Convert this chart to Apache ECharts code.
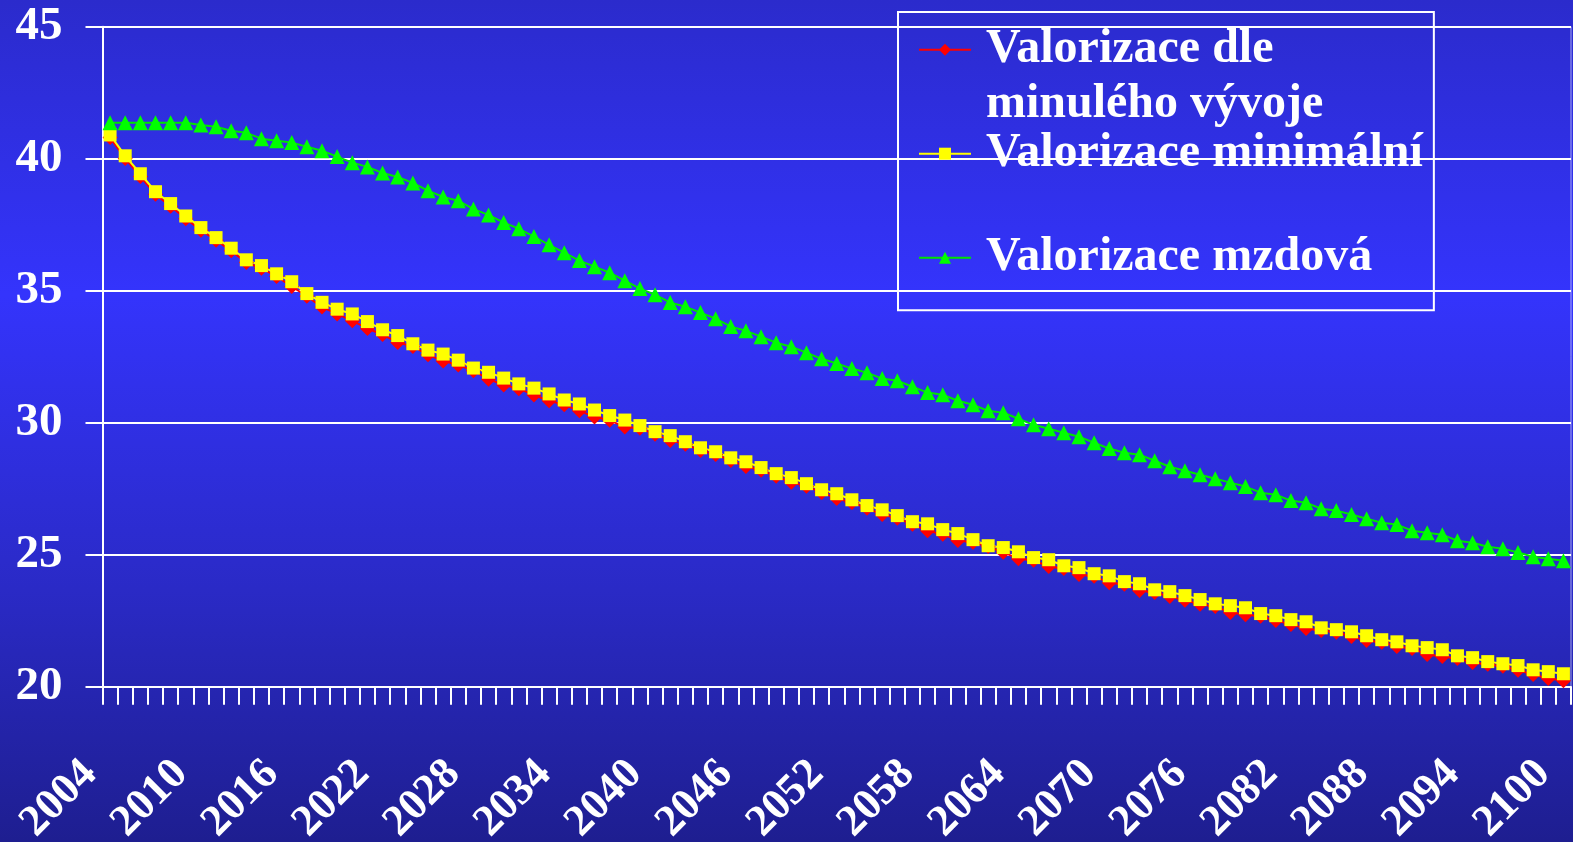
<!DOCTYPE html>
<html>
<head>
<meta charset="utf-8">
<title>Valorizace</title>
<script src="https://cdn.jsdelivr.net/npm/echarts@6/dist/echarts.min.js"></script>
<style>
  html, body { margin: 0; padding: 0; }
  #chart {
    width: 1573px;
    height: 842px;
    background: linear-gradient(to bottom, #2b2bcc 0%, #3434fc 35%, #2a2ac6 70%, #1e1e90 100%);
  }
</style>
</head>
<body>
<div id="chart"></div>
<script>
// roky 2004 - 2100
var years = [];
for (var y = 2004; y <= 2100; y++) years.push(String(y));

var yTicks = [20, 25, 30, 35, 40, 45];

// Valorizace dle minulého vývoje
var minulyVyvoj = [
  40.80, 40.01, 39.33, 38.65, 38.20, 37.73, 37.29, 36.91, 36.51, 36.07,
  35.85, 35.54, 35.16, 34.79, 34.38, 34.12, 33.86, 33.57, 33.34, 33.04,
  32.89, 32.57, 32.34, 32.19, 31.97, 31.65, 31.43, 31.29, 31.05, 30.83,
  30.68, 30.45, 30.22, 30.09, 29.84, 29.79, 29.56, 29.33, 29.18, 28.95,
  28.80, 28.57, 28.34, 28.20, 27.97, 27.74, 27.59, 27.36, 27.13, 26.98,
  26.76, 26.52, 26.38, 26.15, 25.91, 25.77, 25.54, 25.47, 25.31, 25.09,
  24.85, 24.79, 24.55, 24.48, 24.25, 24.18, 23.94, 23.88, 23.64, 23.57,
  23.42, 23.27, 23.12, 23.04, 22.81, 22.73, 22.67, 22.51, 22.36, 22.20,
  22.13, 22.06, 21.90, 21.75, 21.68, 21.52, 21.45, 21.22, 21.14, 21.07,
  20.92, 20.85, 20.77, 20.62, 20.46, 20.31, 20.23
];

// Valorizace minimální
var minimalni = [
  40.90, 40.11, 39.43, 38.75, 38.30, 37.83, 37.39, 37.01, 36.61, 36.17,
  35.95, 35.64, 35.34, 34.89, 34.56, 34.30, 34.12, 33.83, 33.52, 33.30,
  32.99, 32.75, 32.60, 32.37, 32.07, 31.91, 31.69, 31.47, 31.31, 31.09,
  30.86, 30.71, 30.48, 30.27, 30.10, 29.89, 29.66, 29.51, 29.28, 29.05,
  28.90, 28.67, 28.52, 28.30, 28.07, 27.92, 27.69, 27.46, 27.31, 27.08,
  26.86, 26.70, 26.48, 26.25, 26.17, 25.95, 25.80, 25.57, 25.34, 25.27,
  25.11, 24.89, 24.81, 24.58, 24.51, 24.28, 24.20, 23.98, 23.90, 23.67,
  23.60, 23.45, 23.30, 23.14, 23.07, 22.99, 22.77, 22.69, 22.54, 22.46,
  22.23, 22.16, 22.08, 21.93, 21.78, 21.70, 21.55, 21.48, 21.40, 21.17,
  21.10, 20.95, 20.87, 20.80, 20.64, 20.57, 20.49
];

// Valorizace mzdová
var mzdova = [
  41.36, 41.36, 41.36, 41.36, 41.36, 41.36, 41.28, 41.21, 41.06, 40.98,
  40.76, 40.68, 40.61, 40.45, 40.30, 40.08, 39.85, 39.69, 39.46, 39.31,
  39.08, 38.79, 38.55, 38.41, 38.09, 37.87, 37.58, 37.35, 37.05, 36.74,
  36.44, 36.14, 35.91, 35.68, 35.38, 35.08, 34.85, 34.55, 34.39, 34.17,
  33.94, 33.64, 33.48, 33.26, 33.03, 32.88, 32.65, 32.42, 32.24, 32.05,
  31.89, 31.67, 31.59, 31.36, 31.14, 31.06, 30.83, 30.68, 30.45, 30.38,
  30.15, 29.92, 29.77, 29.62, 29.47, 29.24, 29.02, 28.86, 28.79, 28.56,
  28.33, 28.18, 28.03, 27.88, 27.73, 27.58, 27.35, 27.27, 27.05, 26.97,
  26.74, 26.67, 26.52, 26.36, 26.21, 26.14, 25.91, 25.83, 25.76, 25.53,
  25.45, 25.30, 25.23, 25.08, 24.92, 24.85, 24.77
];

var seriesNames = ['Valorizace dle minulého vývoje', 'Valorizace minimální', 'Valorizace mzdová'];

var FONT = '"Liberation Serif", "Times New Roman", serif';

var myChart = echarts.init(document.getElementById('chart'));

var option = {
  backgroundColor: 'transparent',
  animation: false,
  grid: {
    left: 102.5,
    right: 2,
    top: 26.7,
    bottom: 155.3,
    outerBoundsMode: 'none',
    containLabel: false,
    show: true,
    borderColor: 'rgba(220,220,255,0.7)',
    borderWidth: 1
  },
  legend: {
    orient: 'vertical',
    left: 898,
    top: 12,
    padding: [-44.8, 11, -30, 20],
    itemGap: -6,
    itemWidth: 52,
    itemHeight: 15,
    borderColor: '#ffffff',
    borderWidth: 2,
    selectedMode: false,
    formatter: function (name) {
      // první položka na dva řádky, ikona zůstává u prvního řádku
      return '{t|' + name.replace(' minulého', '}\n{t|minulého') + '}';
    },
    textStyle: {
      color: '#ffffff',
      fontFamily: FONT,
      fontWeight: 'bold',
      fontSize: 48,
      lineHeight: 55,
      rich: {
        t: {
          color: '#ffffff',
          fontFamily: FONT,
          fontWeight: 'bold',
          fontSize: 48,
          lineHeight: 55
        }
      }
    },
    data: [
      { name: seriesNames[0], textStyle: { padding: [55, 0, 0, 10] } },
      { name: seriesNames[1], textStyle: { padding: [0, 0, 0, 10] } },
      { name: seriesNames[2], textStyle: { padding: [55, 0, 55, 10] } }
    ]
  },
  xAxis: {
    type: 'category',
    data: years,
    boundaryGap: true,
    axisLine: { lineStyle: { color: '#ffffff', width: 2 } },
    axisTick: { show: true, interval: 0, length: 18, lineStyle: { color: '#ffffff', width: 2 } },
    axisLabel: {
      interval: 5,
      rotate: 45,
      margin: 61,
      padding: [0, 28, 0, 0],
      color: '#ffffff',
      fontFamily: FONT,
      fontWeight: 'bold',
      fontSize: 44
    },
    splitLine: { show: false }
  },
  yAxis: {
    type: 'value',
    min: yTicks[0],
    max: yTicks[yTicks.length - 1],
    interval: 5,
    axisLine: { show: true, lineStyle: { color: '#ffffff', width: 2 } },
    axisTick: { show: true, length: 17, lineStyle: { color: '#ffffff', width: 2 } },
    axisLabel: {
      margin: 40,
      color: '#ffffff',
      fontFamily: FONT,
      fontWeight: 'bold',
      fontSize: 47
    },
    splitLine: { show: true, lineStyle: { color: '#ffffff', width: 2 } }
  },
  series: [
    {
      name: seriesNames[0],
      type: 'line',
      data: minulyVyvoj,
      showAllSymbol: true,
      symbol: 'diamond',
      symbolSize: 15,
      lineStyle: { color: '#ff0000', width: 2 },
      itemStyle: { color: '#ff0000', borderWidth: 0 }
    },
    {
      name: seriesNames[1],
      type: 'line',
      data: minimalni,
      showAllSymbol: true,
      symbol: 'rect',
      symbolSize: 13,
      lineStyle: { color: '#ffff00', width: 2 },
      itemStyle: { color: '#ffff00', borderWidth: 0 }
    },
    {
      name: seriesNames[2],
      type: 'line',
      data: mzdova,
      showAllSymbol: true,
      symbol: 'triangle',
      symbolSize: 15,
      lineStyle: { color: '#00e400', width: 2 },
      itemStyle: { color: '#00ff00', borderWidth: 0 }
    }
  ]
};

myChart.setOption(option);
</script>
</body>
</html>
